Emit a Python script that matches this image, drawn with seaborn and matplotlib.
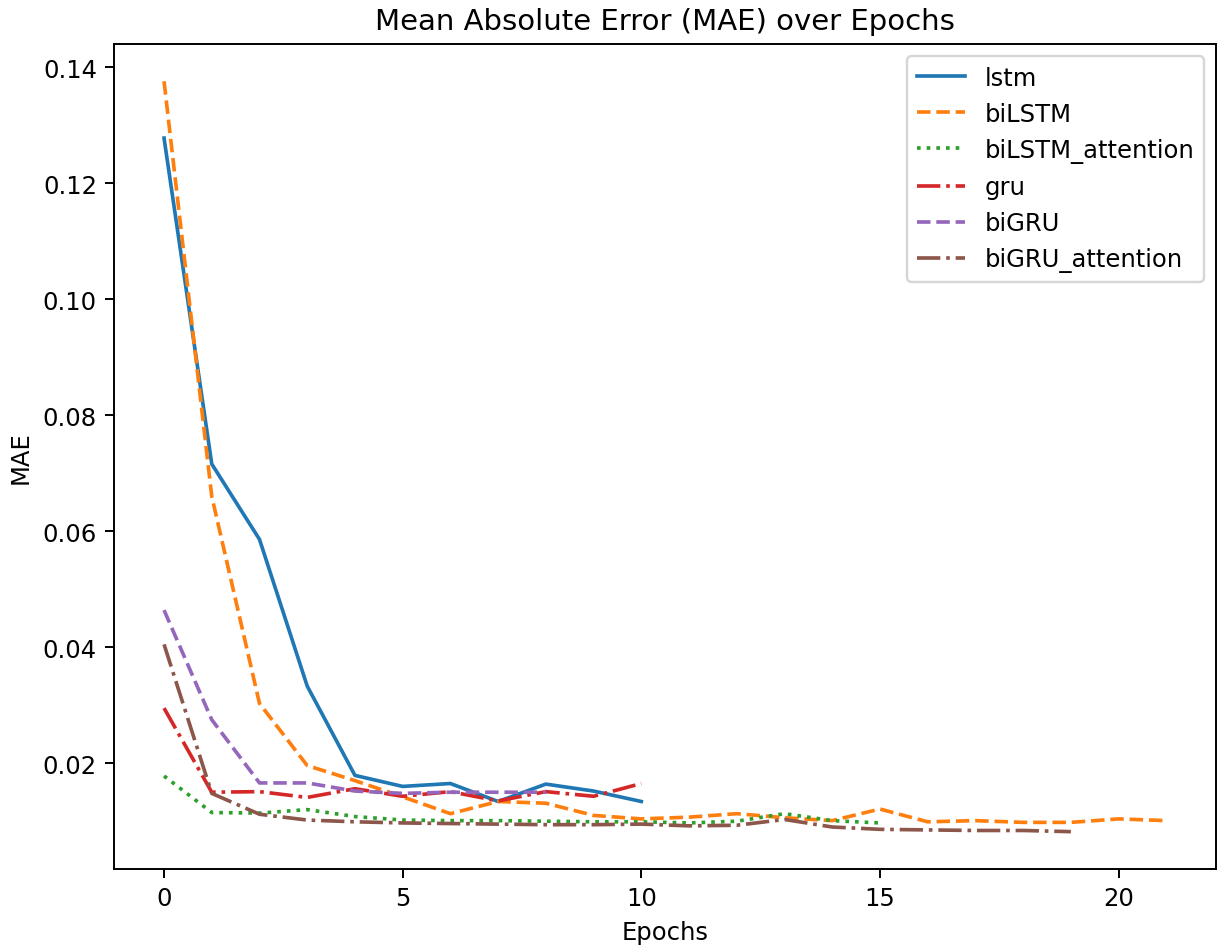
import pandas as pd
import matplotlib
matplotlib.use("Agg")
import matplotlib.pyplot as plt
import seaborn as sns

# MAE per epoch
lstm = [0.1278, 0.0716, 0.0586, 0.0333, 0.0179, 0.0160, 0.0165, 0.0134,
        0.0164, 0.0152, 0.0134]
bilstm = [0.1376, 0.0660, 0.0303, 0.0196, 0.0170, 0.0142, 0.0113, 0.0134,
          0.0131, 0.0110, 0.0104, 0.0107, 0.0113, 0.0106, 0.0101, 0.0121,
          0.0099, 0.0101, 0.0098, 0.0098, 0.0104, 0.0101]
bilstm_attention = [0.0178, 0.0115, 0.0114, 0.0120, 0.0108, 0.0102, 0.0101,
                    0.0101, 0.0100, 0.0099, 0.0099, 0.0097, 0.0100, 0.0113,
                    0.0101, 0.0097]
gru = [0.0295, 0.0150, 0.0151, 0.0141, 0.0156, 0.0143, 0.0151, 0.0135,
       0.0151, 0.0143, 0.0165]
bigru = [0.0464, 0.0275, 0.0166, 0.0166, 0.0152, 0.0148, 0.0150, 0.0150,
         0.0150]
bigru_attention = [0.0405, 0.0148, 0.0112, 0.0102, 0.0099, 0.0097, 0.0096,
                   0.0095, 0.0094, 0.0094, 0.0095, 0.0092, 0.0093, 0.0103,
                   0.0090, 0.0086, 0.0085, 0.0084, 0.0084, 0.0082]

MODELS = ["lstm", "biLSTM", "biLSTM_attention", "gru", "biGRU", "biGRU_attention"]
SERIES = [lstm, bilstm, bilstm_attention, gru, bigru, bigru_attention]

# matplotlib-style dash patterns: '-', '--', ':', '-.', '--', '-.'
DASHES = {
    "lstm": "",
    "biLSTM": (3.7, 1.6),
    "biLSTM_attention": (1, 1.65),
    "gru": (6.4, 1.6, 1, 1.6),
    "biGRU": (3.7, 1.6),
    "biGRU_attention": (6.4, 1.6, 1, 1.6),
}

rows = []
for name, vals in zip(MODELS, SERIES):
    for ep, v in enumerate(vals):
        rows.append({"Epochs": ep, "MAE": v, "model": name})
df = pd.DataFrame(rows)

fig, ax = plt.subplots(figsize=(7.0, 5.434), dpi=175)
fig.subplots_adjust(left=0.093, right=0.993, top=0.953, bottom=0.085)

sns.lineplot(data=df, x="Epochs", y="MAE", hue="model", style="model",
             hue_order=MODELS, style_order=MODELS, dashes=DASHES,
             palette=sns.color_palette("tab10", 6), linewidth=1.5, ax=ax)

ax.set_title("Mean Absolute Error (MAE) over Epochs", fontsize=12)
ax.set_xlabel("Epochs")
ax.set_ylabel("MAE")
ax.legend(loc="upper right", fontsize=10)

fig.savefig("out.png", dpi=175)
